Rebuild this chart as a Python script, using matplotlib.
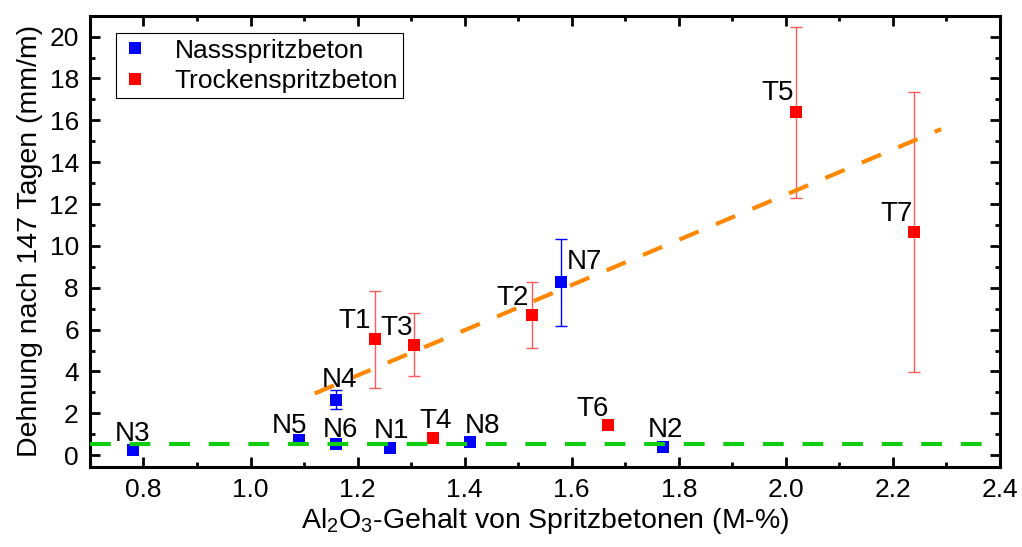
import matplotlib
matplotlib.use("Agg")
import matplotlib.pyplot as plt
from matplotlib.ticker import MultipleLocator, FormatStrFormatter

plt.rcParams['font.family'] = ['Liberation Sans', 'DejaVu Sans']
plt.rcParams['mathtext.fontset'] = 'custom'
plt.rcParams['mathtext.rm'] = 'Liberation Sans'
plt.rcParams['mathtext.it'] = 'Liberation Sans:italic'

# Nassspritzbeton
n_names = ['N1', 'N2', 'N3', 'N4', 'N5', 'N6', 'N7', 'N8']
n_x = [1.26, 1.77, 0.78, 1.16, 1.09, 1.16, 1.58, 1.41]
n_y = [0.35, 0.40, 0.27, 2.66, 0.72, 0.53, 8.27, 0.64]
n_err = [0, 0, 0, 0.45, 0, 0, 2.08, 0]

# Trockenspritzbeton
t_names = ['T1', 'T2', 'T3', 'T4', 'T5', 'T6', 'T7']
t_x = [1.232, 1.525, 1.306, 1.34, 2.018, 1.668, 2.24]
t_y = [5.53, 6.69, 5.28, 0.83, 16.38, 1.43, 10.66]
t_err = [2.32, 1.57, 1.51, 0, 4.10, 0, 6.68]

# trend line (Trockenspritzbeton) and baseline
fit_x = [1.12, 2.29]
fit_y = [2.95, 15.58]
base_y = 0.55

# label offsets in pixels (dx, dy of label centre)
n_off = [(2, 20), (3, 20), (0, 19), (3, 23), (-9, 17.5), (4, 17), (23, 23), (12, 19)]
t_off = [(-20, 21), (-19, 20), (-18, 20), (3, 20), (-18, 22), (-16, 19), (-18, 21)]

fig = plt.figure(figsize=(10.22, 5.47), dpi=100)
ax = fig.add_axes([0.088, 0.1468, 0.8905, 0.8245])

BLUE = '#0000FF'
RED = '#FF0000'
RED_ERR = '#FF5A5A'

# error bars
for x, y, e in zip(n_x, n_y, n_err):
    if e > 0:
        ax.errorbar([x], [y], yerr=[e], fmt='none', ecolor=BLUE, elinewidth=1.0,
                    capsize=4, capthick=1.0, zorder=2)
for x, y, e in zip(t_x, t_y, t_err):
    if e > 0:
        ax.errorbar([x], [y], yerr=[e], fmt='none', ecolor=RED_ERR, elinewidth=1.0,
                    capsize=4, capthick=1.0, zorder=2)

ax.plot(n_x, n_y, 's', color=BLUE, markersize=9, markeredgewidth=0, zorder=3,
        label='Nassspritzbeton')
ax.plot(t_x, t_y, 's', color=RED, markersize=9, markeredgewidth=0, zorder=3,
        label='Trockenspritzbeton')

# lines
ax.axhline(base_y, color='#11CC11', lw=3.0, dashes=(5, 4.5), zorder=4)
ax.plot(fit_x, fit_y, color='#FF8800', lw=3.0, dashes=(5, 4.5), zorder=4)

# labels
for name, x, y, (dx, dy) in zip(n_names, n_x, n_y, n_off):
    ax.annotate(name, (x, y), xytext=(dx, dy - 10), textcoords='offset pixels',
                ha='center', va='baseline', fontsize=20, zorder=5)
for name, x, y, (dx, dy) in zip(t_names, t_x, t_y, t_off):
    ax.annotate(name, (x, y), xytext=(dx, dy - 10), textcoords='offset pixels',
                ha='center', va='baseline', fontsize=20, zorder=5)

ax.set_xlim(0.7, 2.4)
ax.set_ylim(-0.55, 21)
ax.xaxis.set_major_locator(MultipleLocator(0.2))
ax.xaxis.set_minor_locator(MultipleLocator(0.1))
ax.yaxis.set_major_locator(MultipleLocator(2))
ax.yaxis.set_minor_locator(MultipleLocator(1))
ax.xaxis.set_major_formatter(FormatStrFormatter('%.1f'))

ax.tick_params(which='both', direction='in', top=True, right=True, width=2.0)
ax.tick_params(which='major', length=7, labelsize=19, pad=8)
ax.tick_params(which='minor', length=3.5)
for s in ax.spines.values():
    s.set_linewidth(2.2)

ax.set_xlabel('Al$_2$O$_3$-Gehalt von Spritzbetonen (M-%)', fontsize=20.5, labelpad=3)
ax.set_ylabel('Dehnung nach 147 Tagen (mm/m)', fontsize=20.5, labelpad=5)

leg = ax.legend(loc='upper left', bbox_to_anchor=(0.029, 0.961), fontsize=19,
                frameon=True, fancybox=False, edgecolor='black', framealpha=1,
                handlelength=1.0, handletextpad=1.0, borderpad=0.2,
                labelspacing=0.25, borderaxespad=0, markerscale=0.9)
leg.get_frame().set_linewidth(0.8)

fig.savefig('out.png', dpi=100)
